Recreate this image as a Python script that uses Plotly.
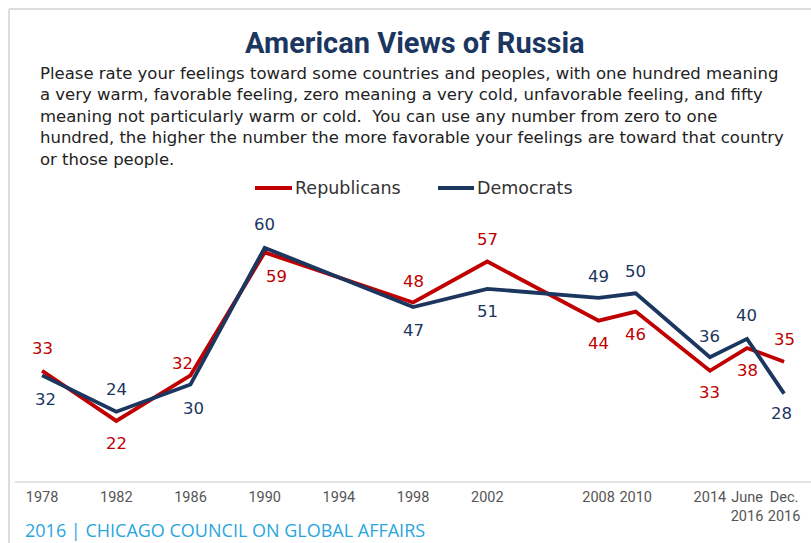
import plotly.graph_objects as go

# ---- data ----
wave_labels = ["1978", "1982", "1986", "1990", "1998", "2002", "2008", "2010", "2014", "June 2016", "Dec. 2016"]
wave_pos = [1978, 1982, 1986, 1990, 1998, 2002, 2008, 2010, 2014, 2016, 2018]
republicans = [33, 22, 32, 59, 48, 57, 44, 46, 33, 38, 35]
democrats = [32, 24, 30, 60, 47, 51, 49, 50, 36, 40, 28]

tick_vals = [1978, 1982, 1986, 1990, 1994, 1998, 2002, 2008, 2010, 2014, 2016, 2018]
tick_text = ["1978", "1982", "1986", "1990", "1994", "1998", "2002", "2008", "2010", "2014", "June<br>2016", "Dec.<br>2016"]

# label placement (style): vertical pixel shift (+ up) and horizontal nudge
rep_dy = [22, -23, 12, -24, 21, 22, -23, -23, -22, -22, 22]
rep_dx = [0, 0, -8, 12, 0, 0, 0, 0, 0, 0, 0]
dem_dy = [-24, 22, -24, 23, -23, -23, 21, 22, 21, 23, -20]
dem_dx = [3, 0, 3, 0, 0, 0, 0, 0, 0, -1, -3]

RED = "#c00000"
NAVY = "#1b365f"
W, H = 811, 543
L, R, T, B = 15, 0, 200, 62
PW, PH = W - L - R, H - T - B


def px(x):
    return (x - L) / PW


def py(y):
    return (H - B - y) / PH


fig = go.Figure()
fig.add_trace(go.Scatter(x=wave_pos, y=republicans, mode="lines", name="Republicans",
                         line=dict(color=RED, width=3.8), hoverinfo="skip"))
fig.add_trace(go.Scatter(x=wave_pos, y=democrats, mode="lines", name="Democrats",
                         line=dict(color=NAVY, width=3.8), hoverinfo="skip"))

LABEL_FONT = "DejaVu Sans"
anns = []
for ys, dy, dx, col in [(republicans, rep_dy, rep_dx, RED), (democrats, dem_dy, dem_dx, NAVY)]:
    for x, y, sy, sx in zip(wave_pos, ys, dy, dx):
        anns.append(dict(x=x, y=y, xref="x", yref="y", text=str(y), showarrow=False,
                         xshift=sx, yshift=sy,
                         font=dict(family=LABEL_FONT, size=16.5, color=col)))

subtitle_lines = [
    "Please rate your feelings toward some countries and peoples, with one hundred meaning",
    "a very warm, favorable feeling, zero meaning a very cold, unfavorable feeling, and fifty",
    "meaning not particularly warm or cold.&nbsp; You can use any number from zero to one",
    "hundred, the higher the number the more favorable your feelings are toward that country",
    "or those people.",
]
anns.append(dict(x=px(39), y=py(63), xref="paper", yref="paper",
                 text="<br>".join(subtitle_lines), showarrow=False,
                 xanchor="left", yanchor="top", align="left", borderpad=0,
                 font=dict(family="DejaVu Sans", size=16.5, color="#222222")))

anns.append(dict(text="2016 | CHICAGO COUNCIL ON GLOBAL AFFAIRS", showarrow=False,
                 x=px(24), y=py(530), xref="paper", yref="paper", xanchor="left", yanchor="middle",
                 borderpad=0,
                 font=dict(family="Open Sans", size=18, color="#29a6dc")))
anns.append(dict(text="<b>American Views of Russia</b>", showarrow=False,
                 x=px(415), y=py(43), xref="paper", yref="paper", xanchor="center", yanchor="middle",
                 font=dict(family="Roboto", size=29, color="#1b365f")))

# legend (drawn manually)
legend_items = [("Republicans", RED, 255, 292), ("Democrats", NAVY, 438, 474)]
shapes = []
for name, col, x0, x1 in legend_items:
    shapes.append(dict(type="line", xref="paper", yref="paper", x0=px(x0), x1=px(x1),
                       y0=py(188), y1=py(188), line=dict(color=col, width=4)))
    anns.append(dict(text=name, showarrow=False, x=px(x1 + 1), y=py(188), xref="paper", yref="paper",
                     xanchor="left", yanchor="middle",
                     font=dict(family="DejaVu Sans", size=17.5, color="#333333")))

# frame lines
shapes.append(dict(type="line", xref="paper", yref="paper", x0=px(9), x1=px(9), y0=py(H), y1=py(9),
                   line=dict(color="#dddddd", width=2)))
shapes.append(dict(type="line", xref="paper", yref="paper", x0=px(9), x1=px(W), y0=py(9), y1=py(9),
                   line=dict(color="#dddddd", width=2)))

fig.update_layout(
    width=W, height=H,
    margin=dict(l=L, r=R, t=T, b=B),
    paper_bgcolor="white", plot_bgcolor="white",
    showlegend=False,
    annotations=anns,
    shapes=shapes,
    xaxis=dict(range=[1976.54, 2019.45], tickvals=tick_vals, ticktext=tick_text,
               showgrid=False, zeroline=False, showline=True, linecolor="#e3e3e3", linewidth=2,
               ticks="", ticklabelstandoff=2,
               tickfont=dict(family="Roboto", size=14.5, color="#555555"),
               fixedrange=True),
    yaxis=dict(range=[8.8, 70.5], showgrid=False, zeroline=False, showticklabels=False,
               showline=False, fixedrange=True),
)

fig.write_html("out.html", config={"displayModeBar": False},
               post_script="document.body.style.margin='0';")
